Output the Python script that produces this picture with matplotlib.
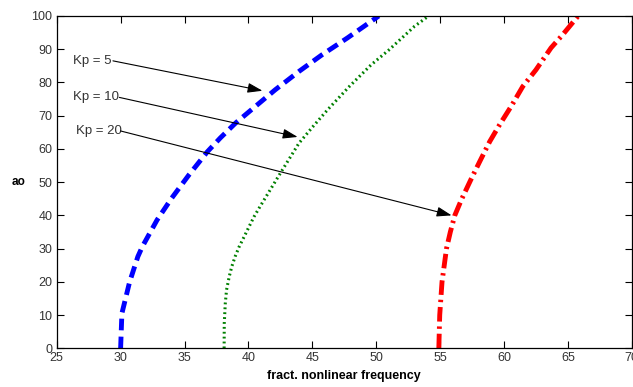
import numpy as np
import matplotlib
matplotlib.use("Agg")
from matplotlib import pyplot as plt

plt.rcParams['font.family'] = ['Liberation Sans', 'DejaVu Sans']

# amplitude values (y) and frequency (x)
ao_kp5 = [0, 10.5, 19.9, 27.6, 30.6, 38.6, 45.2, 52.2, 59.2, 63.3, 67.8, 72.8, 77.8, 83.3, 88.3, 93.4, 100]
fr_kp5 = [30.0, 30.1, 30.7, 31.35, 31.7, 32.85, 34.0, 35.35, 36.8, 37.8, 39.0, 40.55, 42.1, 43.95, 45.75, 47.75, 50.2]

ao_kp10 = [0, 7.5, 13.5, 17.6, 21.6, 24.6, 27.6, 30.6, 33.6, 36.6, 39.6, 42.6, 46.7, 52.7, 61.7, 66.5, 71.8, 78.8, 85.3, 89.8, 96.9, 100]
fr_kp10 = [38.1, 38.11, 38.19, 38.29, 38.5, 38.7, 38.96, 39.28, 39.67, 40.05, 40.44, 40.9, 41.55, 42.5, 43.95, 45.0, 46.2, 47.9, 49.6, 51.0, 53.0, 54.1]

ao_kp20 = [0, 10, 20, 30, 35, 40, 45, 50.7, 56.2, 62.2, 67.3, 72.8, 78.8, 83.8, 90.4, 94.4, 100]
fr_kp20 = [54.9, 54.97, 55.15, 55.5, 55.8, 56.15, 56.7, 57.4, 58.1, 58.88, 59.66, 60.56, 61.47, 62.5, 63.68, 64.6, 65.8]

labels = ['Kp = 5', 'Kp = 10', 'Kp = 20']
label_xy = [(26.3, 86.4), (26.3, 75.6), (26.5, 65.4)]
tail_xy = [(29.4, 86.5), (29.9, 75.5), (30.0, 65.4)]
tip_xy = [(41.1, 77.5), (43.85, 63.6), (55.9, 40.0)]

fig = plt.figure(figsize=(6.33, 3.87), dpi=100)
ax = fig.add_axes([0.0896, 0.1, 0.9085, 0.8587])

ax.plot(fr_kp5, ao_kp5, color='blue', lw=3.5, linestyle=(0, (2.4, 1.3)))
ax.plot(fr_kp10, ao_kp10, color='green', lw=2.2, linestyle=(0, (0.6, 1.0)))
ax.plot(fr_kp20, ao_kp20, color='red', lw=3.5, linestyle=(0, (3.0, 1.0, 0.5, 1.0)))

for lab, lxy, txy, pxy in zip(labels, label_xy, tail_xy, tip_xy):
    ax.text(lxy[0], lxy[1], lab, fontsize=9.5, color='#333333', va='center', ha='left')
    ax.annotate('', xy=pxy, xytext=txy,
                arrowprops=dict(arrowstyle='-|>,head_length=0.9,head_width=0.3',
                                color='black', lw=0.8, shrinkA=0, shrinkB=0))

ax.set_xlim(25, 70)
ax.set_ylim(0, 100)
ax.set_xticks(np.arange(25, 71, 5))
ax.set_yticks(np.arange(0, 101, 10))
ax.tick_params(direction='in', top=True, right=True, length=5, width=0.8,
               labelsize=9, labelcolor='#333333', pad=3)
for s in ax.spines.values():
    s.set_linewidth(0.9)

ax.set_xlabel('fract. nonlinear frequency', fontsize=9, fontweight='bold', labelpad=4)
ax.set_ylabel('ao', fontsize=8.5, fontweight='bold', rotation=0, labelpad=9, va='center')

fig.savefig('out.png', dpi=100)
